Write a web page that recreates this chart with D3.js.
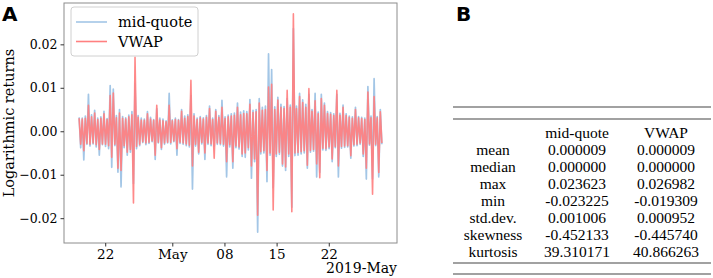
<!DOCTYPE html>
<html><head><meta charset="utf-8">
<script src="https://cdn.jsdelivr.net/npm/d3@7"></script>
<style>
html,body{margin:0;padding:0;background:#fff;}
svg{display:block;}
</style></head>
<body>
<svg id="c" width="713" height="278"></svg>
<script>
// ---- data ----
const seriesNames = ["mid-quote", "VWAP"];
const startTime = "2019-04-18T12:00:00";
const stepHours = 5;
const midQuote = [
 0.0032,-0.0038,0.0030,-0.0066,0.0035,-0.0030,0.0085,-0.0034,0.0038,-0.0029,
 0.0048,-0.0036,0.0030,-0.0055,0.0033,-0.0031,0.0046,-0.0035,0.0029,-0.0040,
 0.0105,-0.0083,0.0097,-0.0033,0.0036,-0.0094,0.0050,-0.0128,0.0034,-0.0038,
 0.0031,-0.0055,0.0037,-0.0048,0.0045,-0.0120,0.0110,-0.0040,0.0036,-0.0033,
 0.0030,-0.0026,0.0028,-0.0031,0.0045,-0.0028,0.0032,-0.0024,0.0027,-0.0065,
 0.0052,-0.0027,0.0030,-0.0042,0.0028,-0.0030,0.0024,-0.0027,0.0087,-0.0029,
 0.0026,-0.0024,0.0030,-0.0055,0.0027,-0.0028,0.0050,-0.0030,0.0035,-0.0033,
 0.0038,-0.0036,0.0082,-0.0133,0.0040,-0.0034,0.0030,-0.0052,0.0034,-0.0029,
 0.0031,-0.0065,0.0036,-0.0030,0.0058,-0.0033,0.0030,-0.0035,0.0050,-0.0030,
 0.0036,-0.0031,0.0071,-0.0034,0.0033,-0.0105,0.0037,-0.0036,0.0040,-0.0085,
 0.0042,-0.0038,0.0065,-0.0041,0.0044,-0.0058,0.0047,-0.0060,0.0045,-0.0043,
 0.0073,-0.0108,0.0048,-0.0070,0.0050,-0.0232,0.0075,-0.0052,0.0055,-0.0050,
 0.0058,-0.0116,0.0178,-0.0055,0.0142,-0.0130,0.0056,-0.0058,0.0078,-0.0053,
 0.0062,-0.0080,0.0057,-0.0090,0.0075,-0.0058,0.0060,-0.0175,0.0236,-0.0056,
 0.0058,-0.0055,0.0087,-0.0052,0.0072,-0.0050,0.0062,-0.0085,0.0085,-0.0048,
 0.0050,-0.0046,0.0087,-0.0105,0.0044,-0.0095,0.0085,-0.0043,0.0065,-0.0044,
 0.0045,-0.0040,0.0043,-0.0070,0.0040,-0.0038,0.0085,-0.0105,0.0041,-0.0039,
 0.0060,-0.0037,0.0040,-0.0036,0.0035,-0.0062,0.0033,-0.0034,0.0055,-0.0033,
 0.0034,-0.0030,0.0032,-0.0058,0.0030,-0.0110,0.0103,-0.0032,0.0035,-0.0110,
 0.0121,-0.0033,0.0034,-0.0105,0.0050,-0.0030
];
const vwap = [
 0.0030,-0.0030,0.0028,-0.0045,0.0030,-0.0028,0.0060,-0.0030,0.0033,-0.0027,
 0.0042,-0.0031,0.0027,-0.0042,0.0030,-0.0029,0.0040,-0.0030,0.0027,-0.0033,
 0.0082,-0.0060,0.0088,-0.0030,0.0031,-0.0085,0.0042,-0.0090,0.0030,-0.0033,
 0.0028,-0.0048,0.0033,-0.0042,0.0038,-0.0165,0.0170,-0.0035,0.0032,-0.0030,
 0.0026,-0.0024,0.0025,-0.0027,0.0040,-0.0025,0.0028,-0.0022,0.0025,-0.0055,
 0.0060,-0.0025,0.0026,-0.0038,0.0024,-0.0027,0.0022,-0.0025,0.0060,-0.0026,
 0.0024,-0.0022,0.0027,-0.0040,0.0025,-0.0025,0.0046,-0.0027,0.0030,-0.0029,
 0.0034,-0.0032,0.0117,-0.0080,0.0035,-0.0030,0.0027,-0.0048,0.0031,-0.0026,
 0.0028,-0.0050,0.0032,-0.0027,0.0052,-0.0029,0.0027,-0.0062,0.0046,-0.0027,
 0.0032,-0.0028,0.0055,-0.0030,0.0029,-0.0070,0.0033,-0.0031,0.0035,-0.0070,
 0.0037,-0.0034,0.0055,-0.0036,0.0038,-0.0052,0.0041,-0.0050,0.0040,-0.0038,
 0.0062,-0.0080,0.0043,-0.0064,0.0045,-0.0193,0.0065,-0.0047,0.0048,-0.0045,
 0.0050,-0.0090,0.0102,-0.0050,0.0108,-0.0181,0.0050,-0.0052,0.0072,-0.0048,
 0.0055,-0.0075,0.0052,-0.0082,0.0094,-0.0052,0.0055,-0.0185,0.0270,-0.0050,
 0.0052,-0.0049,0.0080,-0.0047,0.0066,-0.0045,0.0055,-0.0078,0.0098,-0.0044,
 0.0046,-0.0042,0.0070,-0.0075,0.0040,-0.0107,0.0075,-0.0039,0.0060,-0.0040,
 0.0041,-0.0036,0.0039,-0.0064,0.0036,-0.0035,0.0094,-0.0080,0.0037,-0.0035,
 0.0055,-0.0034,0.0036,-0.0033,0.0032,-0.0056,0.0030,-0.0031,0.0050,-0.0030,
 0.0031,-0.0027,0.0029,-0.0052,0.0027,-0.0085,0.0090,-0.0029,0.0031,-0.0145,
 0.0080,-0.0030,0.0031,-0.0095,0.0045,-0.0027
];
const xTickDates = ["2019-04-22", "2019-05-01", "2019-05-08", "2019-05-15", "2019-05-22"];
const xTickLabels = ["22", "May", "08", "15", "22"];
const xOffsetLabel = "2019-May";
const yTicks = [-0.02, -0.01, 0.00, 0.01, 0.02];
const yLabel = "Logarithmic returns";

const statLabels = ["mean", "median", "max", "min", "std.dev.", "skewness", "kurtosis"];
const midStats  = [0.000009, 0.000000, 0.023623, -0.023225, 0.001006, -0.452133, 39.310171];
const vwapStats = [0.000009, 0.000000, 0.026982, -0.019309, 0.000952, -0.445740, 40.866263];

// ---- chart ----
const svg = d3.select("#c");
const SERIF = "'DejaVu Serif', serif";
const L = 64, R = 397, T = 3, B = 243;
const blue = "#a3c6e6", pink = "#ff8080";

const t0 = new Date(startTime).getTime();
const times = midQuote.map((_, i) => new Date(t0 + i * stepHours * 3600e3));
const tMin = times[0].getTime(), tMax = times[times.length - 1].getTime();
const padT = (tMax - tMin) * 0.05;
const x = d3.scaleTime().domain([new Date(tMin - padT), new Date(tMax + padT)]).range([L, R]);
const allV = midQuote.concat(vwap);
const vMin = d3.min(allV), vMax = d3.max(allV), padV = (vMax - vMin) * 0.05;
const y = d3.scaleLinear().domain([vMin - padV, vMax + padV]).range([B, T]);

const g = svg.append("g");
const line = d3.line().x((d, i) => x(times[i])).y(d => y(d));
g.append("path").datum(midQuote).attr("d", line).attr("fill", "none")
  .attr("stroke", blue).attr("stroke-width", 1.7).attr("stroke-linejoin", "round");
g.append("path").datum(vwap).attr("d", line).attr("fill", "none")
  .attr("stroke", pink).attr("stroke-width", 1.6).attr("stroke-opacity", 0.93).attr("stroke-linejoin", "round");

// frame
svg.append("rect").attr("x", L).attr("y", T).attr("width", R - L).attr("height", B - T)
  .attr("fill", "none").attr("stroke", "#8c8c8c").attr("stroke-width", 1);

// x axis
const xa = svg.append("g").attr("transform", `translate(0,${B})`)
  .call(d3.axisBottom(x).tickValues(xTickDates.map(d => new Date(d + "T00:00:00")))
    .tickFormat((d, i) => xTickLabels[i]).tickSize(3.5).tickPadding(3));
xa.select(".domain").remove();
xa.selectAll("line").attr("stroke", "#333");
xa.selectAll("text").style("font-family", SERIF).style("font-size", "13.5px").attr("fill", "#000");
svg.append("text").attr("x", R).attr("y", 273).attr("text-anchor", "end")
  .style("font-family", SERIF).style("font-size", "14px").text(xOffsetLabel);

// y axis
const ya = svg.append("g").attr("transform", `translate(${L},0)`)
  .call(d3.axisLeft(y).tickValues(yTicks).tickFormat(d => d3.format(".2f")(d)).tickSize(3.5).tickPadding(3));
ya.select(".domain").remove();
ya.selectAll("line").attr("stroke", "#333");
ya.selectAll("text").style("font-family", SERIF).style("font-size", "12.5px").attr("fill", "#000");
svg.append("text").attr("transform", `translate(14,${(T + B) / 2})rotate(-90)`)
  .attr("text-anchor", "middle").style("font-family", SERIF).style("font-size", "14.5px").text(yLabel);

// legend
const lg = svg.append("g");
lg.append("rect").attr("x", 71).attr("y", 7).attr("width", 127).attr("height", 49).attr("rx", 3)
  .attr("fill", "#fff").attr("fill-opacity", 0.85).attr("stroke", "#d0d0d0");
[blue, pink].forEach((c, i) => {
  const yy = 22 + i * 19.5;
  lg.append("line").attr("x1", 76).attr("x2", 107).attr("y1", yy).attr("y2", yy)
    .attr("stroke", c).attr("stroke-width", 1.6);
  lg.append("text").attr("x", 118).attr("y", yy + 5).style("font-family", SERIF)
    .style("font-size", "14.5px").text(seriesNames[i]);
});

// panel letters
const SANS = "'DejaVu Sans', sans-serif";
svg.append("text").attr("x", 2).attr("y", 21).style("font-family", SANS)
  .style("font-weight", "bold").style("font-size", "20px").text("A");
svg.append("text").attr("x", 456).attr("y", 21).style("font-family", SANS)
  .style("font-weight", "bold").style("font-size", "20px").text("B");

// table
const TF = "'Liberation Serif', serif";
const tb = svg.append("g");
[107, 119, 263, 274].forEach(yy => tb.append("line").attr("x1", 453).attr("x2", 711)
  .attr("y1", yy).attr("y2", yy).attr("stroke", "#444").attr("stroke-width", 1.1));
const cx = [493, 577, 666];
[seriesNames[0], seriesNames[1]].forEach((s, j) => {
  tb.append("text").attr("x", cx[j + 1]).attr("y", 138).attr("text-anchor", "middle")
    .style("font-family", TF).style("font-size", "15.5px").text(s);
});
statLabels.forEach((s, i) => {
  const yy = 155 + i * 17;
  [s, midStats[i].toFixed(6), vwapStats[i].toFixed(6)].forEach((t, j) => {
    tb.append("text").attr("x", cx[j]).attr("y", yy).attr("text-anchor", "middle")
      .style("font-family", TF).style("font-size", "15.5px").text(t);
  });
});
</script>
</body></html>
